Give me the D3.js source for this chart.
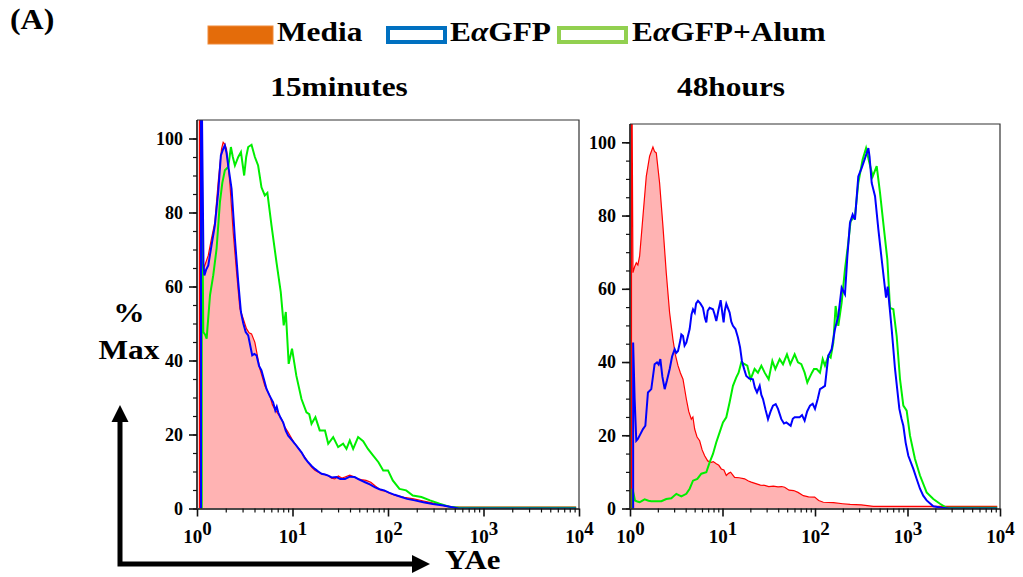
<!DOCTYPE html>
<html>
<head>
<meta charset="utf-8">
<script src="https://cdn.jsdelivr.net/npm/d3@7"></script>
<style>
  body { margin: 0; background: #fff; }
  text { font-family: "Liberation Serif", "Times New Roman", serif; font-weight: bold; fill: #000; }
</style>
</head>
<body>
<div id="chart"></div>
<script>
var width = 1023, height = 577;

// every series is [log10 of YAe intensity, % of max]
var min15Media = [[0.025,0],[0.025,112],[0.035,112],[0.06,67],[0.075,65.2],[0.118,68.4],[0.152,73],[0.187,77.4],[0.222,88.2],[0.257,97.2],[0.274,99],[0.29,98.5],[0.309,97.2],[0.344,88],[0.379,74.7],[0.414,63.9],[0.449,54],[0.484,51.3],[0.518,48.6],[0.545,47.5],[0.571,47.2],[0.606,44.9],[0.658,37.8],[0.71,33.2],[0.763,30.5],[0.79,28],[0.815,26.9],[0.85,25.5],[0.885,24.2],[0.92,22],[0.955,20.6],[0.99,19],[1.025,17.5],[1.06,16.4],[1.094,15.2],[1.13,13.8],[1.164,12.5],[1.2,11.2],[1.234,10.3],[1.27,9.8],[1.304,9.4],[1.34,9.2],[1.374,8.9],[1.41,8.2],[1.443,8.0],[1.48,8.8],[1.52,8.2],[1.55,8.5],[1.6,9.0],[1.65,8.5],[1.685,8.0],[1.72,7.8],[1.77,7.6],[1.82,7.1],[1.87,6.0],[1.93,4.9],[1.98,4.6],[2.03,4.0],[2.07,3.6],[2.17,3.0],[2.27,2.6],[2.36,2.1],[2.45,1.6],[2.53,1.1],[2.6,0.7],[2.7,0.35],[3.97,0.35]];
var min15EaGFP = [[0.042,0],[0.042,112],[0.05,112],[0.068,66],[0.077,63],[0.095,64.5],[0.118,65.7],[0.152,71.1],[0.187,76.5],[0.222,85.5],[0.25,95.4],[0.274,97.2],[0.292,98.1],[0.31,96],[0.327,92.7],[0.362,86.4],[0.397,72.9],[0.432,61.2],[0.46,53.1],[0.485,50],[0.51,47.7],[0.536,46.8],[0.578,41.4],[0.6,41.8],[0.623,41.4],[0.65,38.5],[0.675,37.3],[0.7,35],[0.728,32.3],[0.76,30.5],[0.797,28.7],[0.82,26.5],[0.835,27.5],[0.85,26],[0.875,24.5],[0.902,23.3],[0.93,21],[0.955,19.7],[0.99,18.6],[1.025,17.5],[1.06,16.3],[1.094,15.2],[1.13,13.6],[1.164,12.5],[1.2,11.5],[1.234,10.7],[1.27,10.0],[1.304,9.4],[1.34,9.2],[1.374,8.9],[1.41,8.4],[1.46,8.5],[1.5,8.0],[1.55,8.0],[1.6,8.6],[1.65,8.5],[1.7,7.8],[1.76,7.1],[1.81,6.5],[1.86,5.8],[1.91,5.2],[1.96,4.9],[2.01,4.3],[2.07,3.7],[2.14,3.1],[2.2,2.6],[2.28,2.2],[2.37,1.7],[2.47,1.2],[2.58,0.8],[2.66,0.4],[2.74,0],[3.97,0]];
var min15Alum = [[0.05,0],[0.05,97],[0.066,47.7],[0.085,47],[0.101,45.9],[0.136,57.6],[0.17,63],[0.205,70.2],[0.24,82.8],[0.265,88],[0.292,91.4],[0.327,92.3],[0.355,97.7],[0.375,95],[0.397,92.7],[0.432,95],[0.46,96.3],[0.494,90],[0.515,95],[0.536,97.7],[0.571,98.3],[0.606,95],[0.64,92.7],[0.675,86.8],[0.71,84.6],[0.737,85.3],[0.78,76.5],[0.832,66.6],[0.877,58.5],[0.908,49.5],[0.93,53.1],[0.96,39.1],[0.995,43.2],[1.04,35.9],[1.094,29.6],[1.146,26],[1.175,25.5],[1.199,22.9],[1.24,24.7],[1.285,21.1],[1.34,21.1],[1.374,17.5],[1.426,19.3],[1.478,16.6],[1.53,17.5],[1.565,16.1],[1.6,18.4],[1.635,16.1],[1.687,19.3],[1.74,18.2],[1.79,16.1],[1.845,14.3],[1.9,12.5],[1.95,10.3],[2.0,10.3],[2.05,7.6],[2.12,5.3],[2.19,4.9],[2.26,3.5],[2.35,3.1],[2.44,2.2],[2.54,1.3],[2.64,0.5],[2.75,0.2],[3.97,0.2]];

var h48Media = [[0.016,0],[0.016,112],[0.022,112],[0.032,64.4],[0.05,66],[0.068,67.1],[0.085,66.5],[0.104,68.9],[0.14,79.8],[0.176,90.7],[0.212,96.2],[0.248,98.7],[0.265,97.5],[0.284,97.1],[0.32,88.9],[0.356,77.1],[0.392,64.4],[0.428,53.5],[0.464,46.2],[0.49,42],[0.519,39],[0.545,37],[0.573,35.3],[0.609,29.9],[0.635,26.5],[0.663,24.4],[0.68,25],[0.699,21.7],[0.725,19.5],[0.753,18.5],[0.78,16],[0.807,14.4],[0.84,13],[0.879,12.6],[0.9,12.8],[0.933,12.2],[0.96,11.8],[0.987,10.8],[1.015,10.5],[1.041,9.0],[1.065,9.6],[1.088,9.9],[1.11,9.2],[1.131,8.5],[1.18,8.4],[1.239,8.1],[1.28,7.5],[1.311,7.2],[1.36,6.8],[1.41,6.4],[1.456,6.3],[1.5,6.0],[1.55,6.1],[1.6,5.9],[1.64,6.0],[1.672,5.8],[1.72,5.0],[1.77,4.9],[1.816,4.4],[1.874,3.5],[1.93,3.2],[1.996,3.1],[2.04,2.2],[2.09,1.7],[2.2,1.6],[2.3,1.3],[2.38,1.1],[2.5,1.0],[2.63,0.6],[3.97,0.6]];
var h48EaGFP = [[0.034,0],[0.034,45.3],[0.05,30],[0.068,18.5],[0.085,19],[0.104,19.9],[0.14,21.7],[0.166,22.6],[0.194,31.7],[0.23,32.6],[0.266,39.4],[0.292,39.9],[0.31,39.3],[0.328,40.8],[0.35,36],[0.375,32.6],[0.4,35],[0.429,38.1],[0.455,41.5],[0.483,43.5],[0.5,42.5],[0.519,43],[0.545,46],[0.555,47.5],[0.573,47.1],[0.59,44.5],[0.609,45.3],[0.645,49],[0.665,53],[0.681,54.4],[0.7,53.5],[0.715,56],[0.735,56.7],[0.76,56],[0.789,54.8],[0.81,52],[0.825,50.8],[0.84,54],[0.861,54.8],[0.897,54.4],[0.915,53],[0.933,51.2],[0.955,54],[0.98,56.9],[1.0,53],[1.012,50.8],[1.025,54],[1.041,55.9],[1.077,53.5],[1.095,51],[1.113,49.9],[1.14,49],[1.167,46.7],[1.19,44],[1.21,40.3],[1.235,38],[1.257,36.2],[1.29,35.5],[1.329,35.3],[1.35,33],[1.373,31.7],[1.402,33.5],[1.42,31],[1.438,29.9],[1.465,27],[1.492,24.4],[1.52,26.5],[1.546,28.1],[1.575,28.5],[1.6,27.2],[1.636,24.4],[1.665,23.2],[1.69,23.5],[1.737,22.6],[1.76,24.5],[1.78,24.9],[1.834,24.9],[1.86,25.5],[1.888,24],[1.915,26.5],[1.946,28.1],[1.975,28.6],[2.0,27.2],[2.03,30],[2.054,32.6],[2.08,33],[2.108,33.5],[2.144,41.7],[2.18,43.5],[2.216,49],[2.252,52.6],[2.288,60.3],[2.324,58.5],[2.35,68.9],[2.378,78],[2.407,80.3],[2.432,78.9],[2.468,90.7],[2.505,93],[2.541,95.7],[2.577,98.4],[2.59,96],[2.613,88.9],[2.649,85.3],[2.685,76.2],[2.721,68],[2.768,57.6],[2.786,60.6],[2.829,49],[2.865,38.1],[2.912,27.2],[2.935,24.5],[2.955,22.6],[2.98,18],[3.009,14.4],[3.063,10.8],[3.1,8],[3.135,5.4],[3.17,3.5],[3.207,2.2],[3.279,0.6],[3.369,0.2],[3.45,0],[3.97,0]];
var h48Alum = [[0.027,0],[0.027,5.4],[0.054,2.2],[0.08,1.9],[0.104,1.7],[0.13,2.1],[0.158,2.5],[0.2,2.1],[0.23,2.0],[0.339,2.0],[0.392,2.6],[0.447,2.8],[0.501,4.0],[0.555,3.3],[0.609,4.0],[0.645,5.4],[0.681,7.6],[0.728,8.1],[0.771,9.5],[0.825,9.9],[0.861,12.6],[0.897,14.9],[0.933,18.1],[0.969,20.8],[1.005,23.5],[1.041,24.9],[1.077,29],[1.113,33.5],[1.149,35.8],[1.174,37.1],[1.203,39.9],[1.239,39.4],[1.268,39],[1.304,35.3],[1.347,38.1],[1.383,37.1],[1.42,39],[1.456,37.1],[1.499,35.3],[1.539,40.3],[1.571,38.1],[1.618,40.8],[1.654,39.4],[1.697,42.1],[1.733,39.4],[1.78,42.1],[1.816,39.9],[1.852,39.4],[1.888,37.1],[1.917,34.4],[1.942,35.8],[1.967,37.1],[1.989,38.1],[2.018,38.1],[2.054,37.1],[2.083,40.8],[2.108,39],[2.144,41.7],[2.169,41.2],[2.198,45.3],[2.223,55.3],[2.252,49.9],[2.288,56.2],[2.324,65.3],[2.36,72.6],[2.385,78.5],[2.432,79.8],[2.468,88.9],[2.515,95.3],[2.552,98.4],[2.588,94.4],[2.624,90.7],[2.667,93.5],[2.703,86.2],[2.746,76.2],[2.782,68],[2.811,54.8],[2.847,54.4],[2.883,47.1],[2.919,35.3],[2.955,28.1],[2.991,26.7],[3.027,19.9],[3.081,13.5],[3.135,9.0],[3.207,4.4],[3.279,2.6],[3.351,1.3],[3.423,0.2],[3.97,0.2]];

var panelTitles = ["15minutes", "48hours"];
var legendNames = ["Media", "EαGFP", "EαGFP+Alum"];
var yTicks = [0, 20, 40, 60, 80, 100];
var decades = [0, 1, 2, 3, 4];

var svg = d3.select("#chart").append("svg")
  .attr("width", width)
  .attr("height", height);

// panel boxes
var panels = [
  {title: panelTitles[0], tx: 339, media: min15Media, gfp: min15EaGFP, alum: min15Alum, x0: 197, x1: 579, top: 120},
  {title: panelTitles[1], tx: 731, media: h48Media, gfp: h48EaGFP, alum: h48Alum, x0: 630, x1: 1000, top: 124}
];
var bottom = 508.5;

var majorVals = decades.map(function(d){ return Math.pow(10, d); });
var minorVals = [];
decades.slice(0, 4).forEach(function(d){
  for (var m = 2; m < 10; m++) minorVals.push(m * Math.pow(10, d));
});

panels.forEach(function(p, i){
  var x = d3.scaleLog().domain([1, 1e4]).range([p.x0, p.x1]);
  var y = d3.scaleLinear().domain([0, 105]).range([bottom, p.top]);
  var g = svg.append("g");

  g.append("clipPath").attr("id", "clip" + i)
    .append("rect").attr("x", p.x0).attr("y", p.top).attr("width", p.x1 - p.x0).attr("height", bottom - p.top);

  var line = d3.line().x(function(d){ return x(Math.pow(10, d[0])); }).y(function(d){ return y(d[1]); });
  var area = d3.area().x(function(d){ return x(Math.pow(10, d[0])); }).y0(y(0)).y1(function(d){ return y(d[1]); });

  var plot = g.append("g").attr("clip-path", "url(#clip" + i + ")");
  plot.append("path").datum(p.media).attr("d", area).attr("fill", "#ffb3b3");
  plot.append("path").datum(p.media).attr("d", line).attr("fill", "none").attr("stroke", "#ff0000").attr("stroke-width", 1.2);
  plot.append("path").datum(p.alum).attr("d", line).attr("fill", "none").attr("stroke", "#00ee00").attr("stroke-width", 2);
  plot.append("path").datum(p.gfp).attr("d", line).attr("fill", "none").attr("stroke", "#0000ff").attr("stroke-width", 2);

  // frame (top + right)
  g.append("path")
    .attr("d", "M" + p.x0 + "," + p.top + "H" + p.x1 + "V" + bottom)
    .attr("fill", "none").attr("stroke", "#333").attr("stroke-width", 1.2);

  // x axis
  var gxMinor = g.append("g").attr("transform", "translate(0," + bottom + ")")
    .call(d3.axisBottom(x).tickValues(minorVals).tickSize(4).tickSizeOuter(0).tickFormat(""));
  gxMinor.select(".domain").remove();
  var gx = g.append("g").attr("transform", "translate(0," + bottom + ")")
    .call(d3.axisBottom(x).tickValues(majorVals).tickSize(8).tickSizeOuter(0).tickPadding(13));
  gx.selectAll("line, path").attr("stroke", "#111").attr("stroke-width", 1.6);
  gxMinor.selectAll("line").attr("stroke", "#111").attr("stroke-width", 1.2);
  gx.attr("font-family", null).attr("font-size", null);
  gx.selectAll(".tick text").text(null).style("font-size", "19px").each(function(d){
    var t = d3.select(this);
    t.append("tspan").text("10");
    t.append("tspan").attr("dy", "-0.42em").text(Math.round(Math.log10(d)));
  });

  // y axis
  var gyMinor = g.append("g").attr("transform", "translate(" + p.x0 + ",0)")
    .call(d3.axisLeft(y).tickValues(d3.range(0, 105, 5)).tickSize(4).tickSizeOuter(0).tickFormat(""));
  gyMinor.select(".domain").remove();
  gyMinor.selectAll("line").attr("stroke", "#111").attr("stroke-width", 1.2);
  var gy = g.append("g").attr("transform", "translate(" + p.x0 + ",0)")
    .call(d3.axisLeft(y).tickValues(yTicks).tickSize(8).tickSizeOuter(0).tickPadding(6));
  gy.attr("font-family", null).attr("font-size", null);
  gy.select(".domain").attr("d", "M0," + p.top + "V" + bottom);
  gy.selectAll("line, path").attr("stroke", "#111").attr("stroke-width", 1.6);
  gy.selectAll(".tick text").style("font-size", "18px");

  // panel title
  svg.append("text").attr("transform", "translate(" + p.tx + ",96) scale(1.12,1)")
    .attr("text-anchor", "middle").style("font-size", "28px").text(p.title);
});

// panel letter
svg.append("text").attr("transform", "translate(10,29) scale(1.1,1)").style("font-size", "29px").text("(A)");

// legend
var legendItems = [
  {name: legendNames[0], rx: 208, tx: 277, w: 65, fill: "#e46c0a", stroke: "#f08a3a", sw: 1},
  {name: legendNames[1], rx: 388, tx: 450, w: 57, fill: "none", stroke: "#0070c0", sw: 4},
  {name: legendNames[2], rx: 559, tx: 632, w: 67, fill: "none", stroke: "#92d050", sw: 4}
];
legendItems.forEach(function(d, i){
  svg.append("rect")
    .attr("x", d.rx).attr("y", i === 0 ? 26 : 28)
    .attr("width", d.w).attr("height", i === 0 ? 18 : 14)
    .attr("fill", d.fill).attr("stroke", d.stroke).attr("stroke-width", d.sw);
  var t = svg.append("text").attr("transform", "translate(" + d.tx + ",41) scale(1.12,1)").style("font-size", "28px");
  var parts = d.name.split("α");
  if (parts.length > 1) {
    t.append("tspan").text(parts[0]);
    t.append("tspan").style("font-style", "italic").text("α");
    t.append("tspan").text(parts[1]);
  } else {
    t.text(d.name);
  }
});

// y title
svg.append("text").attr("transform", "translate(129,322) scale(1.12,1)").attr("text-anchor", "middle").style("font-size", "28px").text("%");
svg.append("text").attr("transform", "translate(129,359) scale(1.12,1)").attr("text-anchor", "middle").style("font-size", "28px").text("Max");

// axis arrows
svg.append("path").attr("d", "M120,421V564H413")
  .attr("fill", "none").attr("stroke", "#000").attr("stroke-width", 5).attr("stroke-linejoin", "miter");
svg.append("path").attr("d", "M120,405L111.5,422H128.5Z").attr("fill", "#000");
svg.append("path").attr("d", "M430,564L412,555V573Z").attr("fill", "#000");
svg.append("text").attr("transform", "translate(445,569) scale(1.1,1)").style("font-size", "28px").text("YAe");
</script>
</body>
</html>
